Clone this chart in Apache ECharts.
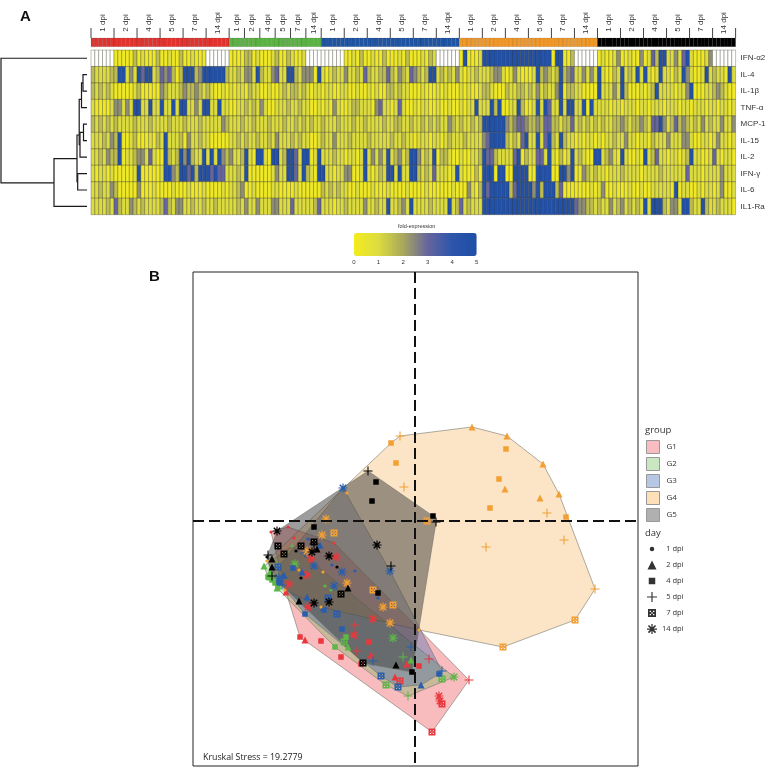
<!DOCTYPE html>
<html><head><meta charset="utf-8">
<style>html,body{margin:0;padding:0;background:#fff}#c{width:766px;height:770px}</style>
<script src="https://cdn.jsdelivr.net/npm/echarts@6/dist/echarts.min.js"></script>
</head><body><div id="c"></div>
<script>
// reading codes: 0 bright yellow ... 5 saturated blue, _ = not measured (white)
const _ = -1;
const foldLevels = [0.25, 1, 1.6, 2.4, 3, 4.7];
const cytokines = ['IFN-α2','IL-4','IL-1β','TNF-α','MCP-1','IL-15','IL-2','IFN-γ','IL-6','IL1-Ra'];
const dayNames = ['1 dpi','2 dpi','4 dpi','5 dpi','7 dpi','14 dpi'];
const groupNames = ['G1','G2','G3','G4','G5'];
const cellsPerDay = [6,4,6,6,6];

const IFNa2 = [_,_,_,_,_,_,0,0,0,0,0,2,0,1,0,0,0,2,0,0,1,0,0,2,0,0,1,0,0,0,_,_,_,_,_,_,0,0,0,0,2,2,0,1,0,0,0,1,2,0,0,2,1,0,0,1,
 _,_,_,_,_,_,_,_,_,_,0,0,1,0,2,0,0,1,0,0,2,0,0,0,1,0,2,0,0,0,1,0,2,1,_,_,_,_,_,_,0,5,0,0,0,1,5,5,5,5,5,5,5,5,5,5,
 5,5,5,5,5,5,5,5,0,5,5,0,0,2,_,_,_,_,_,_,0,1,0,0,1,3,0,0,1,0,0,3,0,1,4,2,5,5,1,1,3,1,4,5,1,0,0,0,1,3,_,_,_,_,_,_];
const IL4 = [2,1,1,1,1,2,2,5,5,1,3,1,5,4,5,5,1,2,4,3,4,2,0,2,5,5,5,2,3,5,5,5,5,5,5,2,1,1,2,1,3,3,1,5,2,1,1,3,4,1,1,5,5,2,1,3,
 3,3,0,5,1,0,1,2,1,1,3,1,1,2,1,4,2,1,1,2,2,4,2,1,3,2,1,4,3,2,1,2,5,5,1,2,1,2,1,3,1,0,1,1,2,1,1,1,2,3,3,1,0,1,3,1,
 0,0,0,1,5,2,3,2,1,2,5,2,3,4,1,1,3,1,3,1,5,1,0,0,2,1,5,1,2,1,5,1,5,1,0,1,5,1,1,0,2,1,5,3,1,0,0,1,5,1,2,1,1,0,5,1];
const IL1b = [2,1,2,1,2,1,0,0,0,0,0,1,2,0,0,0,0,0,3,2,1,1,1,2,3,2,2,3,2,1,2,1,0,0,1,0,1,0,1,1,0,2,1,1,0,0,1,0,0,1,2,1,2,2,1,2,
 1,0,1,1,0,1,1,0,0,1,1,0,0,1,0,0,1,0,1,0,0,2,2,1,2,1,1,0,0,0,1,0,0,0,1,0,1,0,0,0,1,0,1,0,0,1,2,2,1,0,0,0,2,1,1,2,
 2,1,2,1,3,1,2,1,1,3,5,0,2,2,1,1,0,0,0,0,5,1,1,1,3,1,5,2,0,0,0,1,0,1,2,5,1,1,1,1,0,1,1,3,5,0,0,0,1,1,2,3,2,1,0,0];
const TNFa = [1,0,0,0,0,1,3,3,1,3,1,5,5,1,1,5,1,1,5,1,1,5,1,5,5,1,1,3,1,5,5,1,1,5,1,1,0,0,1,1,2,1,2,1,3,1,0,0,1,1,1,2,1,1,2,1,
 1,0,0,1,0,1,0,3,1,0,0,1,2,2,1,1,1,0,3,4,1,1,0,1,4,1,0,0,1,0,1,1,0,0,1,0,0,1,0,0,1,0,1,1,5,1,1,1,5,2,5,0,0,1,1,5,
 2,0,0,1,5,1,5,4,1,1,5,1,5,5,1,1,5,0,5,1,1,1,1,0,1,1,0,1,1,1,0,1,1,0,1,1,1,0,1,1,1,0,1,1,0,1,1,1,0,1,1,0,1,1,0,1];
const MCP1 = [2,1,2,1,2,1,2,1,1,1,1,2,1,1,1,2,1,1,1,1,2,1,1,1,2,1,1,1,2,1,1,1,1,1,3,2,1,1,1,2,1,1,2,1,1,1,2,1,1,1,2,1,1,2,1,2,
 1,2,1,1,2,1,1,1,2,1,1,1,2,1,1,2,1,1,1,1,2,1,1,2,2,1,1,2,1,1,2,1,2,1,2,1,1,3,2,1,2,1,1,2,1,2,5,5,5,5,5,5,3,2,3,4,
 4,3,2,2,3,2,4,4,2,2,1,2,2,4,1,2,1,2,1,2,1,2,1,1,2,2,3,2,1,2,2,3,2,1,4,4,5,3,1,2,4,2,3,2,1,2,1,3,1,2,1,1,3,1,1,3];
const IL15 = [1,1,1,2,1,3,2,5,0,0,1,2,0,0,0,1,0,2,1,5,1,1,1,2,0,3,1,1,2,1,1,0,0,0,0,0,1,1,2,1,2,1,1,2,1,1,2,1,3,1,1,1,2,1,2,1,
 1,0,0,1,2,1,1,3,1,1,1,2,1,1,1,1,2,1,1,1,1,1,2,1,1,2,1,1,0,1,1,1,0,1,1,0,1,2,1,1,1,2,1,1,1,1,3,4,5,5,5,5,2,1,2,1,
 4,5,1,1,5,1,4,5,2,1,5,2,1,1,0,1,0,1,1,0,1,0,1,1,2,1,1,3,1,1,0,1,1,0,2,1,1,1,3,1,1,1,3,3,1,0,0,1,1,0,1,3,1,1,0,1];
const IL2 = [1,1,2,1,3,2,2,5,0,1,1,2,3,3,1,4,1,0,0,5,2,1,2,5,3,5,2,1,1,5,1,5,1,5,3,2,3,1,1,2,5,1,0,5,5,1,0,5,5,1,2,5,5,4,1,5,
 5,0,1,5,1,1,1,2,1,1,0,1,1,0,1,5,1,3,1,3,1,5,1,2,3,1,2,5,5,3,1,2,1,5,0,2,2,1,0,0,1,0,0,1,1,2,5,4,4,2,1,1,1,1,4,5,
 0,2,1,1,4,4,1,5,1,0,2,0,1,5,1,2,1,0,0,5,5,1,2,3,1,0,5,1,0,0,1,0,5,1,2,4,1,1,0,1,1,0,1,2,5,1,1,0,0,1,4,1,0,1,1,0];
const IFNg = [1,0,1,1,0,1,0,0,0,0,0,1,5,0,0,0,0,0,1,5,5,3,2,5,5,4,5,2,5,5,5,4,5,4,4,1,1,1,2,1,5,0,0,0,0,0,0,1,3,1,1,5,5,4,1,5,
 2,1,0,5,5,1,1,0,1,1,3,3,0,0,1,5,1,0,1,2,1,5,5,1,5,1,1,5,5,2,1,2,1,4,1,1,1,0,1,5,1,0,0,0,2,0,5,5,5,0,5,5,0,0,5,5,
 5,5,0,0,5,5,5,5,0,0,5,5,3,5,0,0,3,2,1,2,1,1,0,1,1,1,2,1,1,1,1,0,1,1,1,1,2,1,1,1,1,1,1,4,1,1,1,0,1,1,1,1,3,1,1,1];
const IL6 = [1,1,2,1,1,3,2,0,0,0,0,0,3,0,0,0,1,0,0,0,0,1,0,0,0,1,0,0,0,1,0,0,0,0,1,0,1,1,2,3,0,0,1,0,0,0,0,1,1,0,0,0,0,1,0,0,
 0,0,0,0,2,1,2,1,2,1,1,0,0,1,0,0,0,1,0,0,0,1,0,0,0,0,1,0,0,0,0,1,0,0,0,0,0,0,1,0,0,0,3,1,0,2,5,4,5,5,5,5,5,2,4,5,
 5,5,5,3,5,2,5,5,5,2,4,0,0,0,0,0,0,0,1,0,1,3,0,0,1,0,0,0,1,0,0,1,0,0,1,1,1,1,1,0,5,0,1,1,0,0,1,0,1,1,0,1,3,0,0,1];
const IL1Ra = [1,1,1,1,2,1,4,2,1,1,3,2,1,2,1,1,1,1,2,4,2,1,3,3,1,1,2,1,1,2,1,1,2,1,1,1,1,1,2,1,3,1,1,3,1,1,1,3,3,1,1,1,4,1,1,1,
 1,1,2,4,1,1,1,0,1,1,2,1,1,1,1,3,1,1,2,1,1,5,1,1,2,3,1,5,1,1,1,1,2,1,1,1,1,5,1,2,4,1,2,1,1,1,5,5,5,5,5,5,5,5,5,5,
 5,5,5,5,5,5,5,5,5,5,5,5,5,5,4,3,3,2,2,1,2,1,1,3,1,2,3,1,2,1,2,1,5,1,5,5,5,2,1,3,3,1,5,5,2,1,1,5,2,1,1,2,1,1,1,0];
const heatRows = [IFNa2,IL4,IL1b,TNFa,MCP1,IL15,IL2,IFNg,IL6,IL1Ra];

const dendroMerges = [
 [83,1.5,87,2.5,87],[81.5,2,83,3.5,87],[83.5,4.5,87,5.5,87],[80,5,83.5,6.5,87],
 [79.2,3,81.5,5.75,80],[77.7,7.5,87,8.5,87],[77,5.16,79.2,8,77.7],[54,6.6,77,9.5,87],[1,0.5,87,8.07,54]];

const pointsG1 = [[-144,-11,0],[-127,-6,0],[-81,-22,0],[-121,-17,0],
 [-129,-71,1],[-110,-119,1],[-20,-156,1],[-8,-143,1],[-44,-134,1],
 [-115,-116,2],[-94,-120,2],[-74,-136,2],[-54,-143,2],[4,-145,2],[-46,-121,2],
 [54,-159,3],[-60,-104,3],[-58,-130,3],[14,-138,3],
 [-15,-160,4],[17,-211,4],[27,-183,4],
 [-42,-98,5],[-61,-114,5],[24,-175,5],[25,-180,5],[-104,-38,5],[-79,-36,5],[-108,-54,5],[-126,-63,5],[-107,-86,5]];
const pointsG2 = [[-123,-25,0],[-90,-65,0],[-84,-69,0],[-135,-44,0],
 [-151,-45,1],[-67,-126,1],[-4,-139,1],[-138,-67,1],[-145,-51,1],
 [-147,-56,2],[-143,-59,2],[-69,-116,2],[-80,-126,2],[-140,-62,2],[-137,-66,2],
 [-7,-175,3],[-12,-136,3],
 [-71,-121,4],[-29,-164,4],[27,-158,4],[-145,-56,4],
 [39,-156,5],[-22,-117,5],[-120,-43,5]];
const pointsG3 = [[-107,-18,0],[-95,-26,0],[-60,-50,0],[-37,-77,0],[-83,-44,0],[-93,-89,0],
 [-131,-54,1],[-108,-76,1],[-95,-24,1],[6,-164,1],[-113,-51,1],[-135,-61,1],
 [-122,-47,2],[-136,-61,2],[-110,-93,2],[-91,-89,2],[-73,-108,2],[24,-153,2],
 [-4,-126,3],[-42,-140,3],[27,-150,3],[-132,-57,3],[-110,-32,3],[-133,-64,3],
 [-137,-46,4],[-87,-77,4],[-78,-93,4],[-34,-155,4],[-17,-166,4],
 [-72,33,5],[-25,-50,5],[-101,-45,5],[-73,-51,5],[-81,-65,5],[-136,-57,5]];
const pointsG4 = [[-68,28,0],[-148,-40,0],[-116,-49,0],[-92,-51,0],[-94,-86,0],[4,-109,0],[-130,-69,0],
 [57,94,1],[92,85,1],[128,57,1],[144,27,1],[90,32,1],[125,23,1],
 [-24,78,2],[-19,58,2],[91,72,2],[84,42,2],[75,13,2],[151,4,2],
 [-15,85,3],[-11,34,3],[132,8,3],[149,-19,3],[71,-26,3],[180,-68,3],
 [12,0,4],[160,-99,4],[88,-126,4],[-81,-12,4],[-42,-69,4],[-22,-84,4],
 [-89,2,5],[-93,-14,5],[-108,-30,5],[-68,-62,5],[-32,-86,5],[-25,-102,5]];
const pointsG5 = [[-119,-30,0],[-114,-57,0],[-78,-46,0],[-148,-36,0],
 [-143,-38,1],[-143,-46,1],[-98,-28,1],[-67,-67,1],[-116,-80,1],[-19,-144,1],
 [-39,39,2],[-43,20,2],[18,5,2],[-101,-6,2],[-37,-72,2],[-3,-151,2],
 [-47,50,3],[21,-1,3],[-24,-45,3],[-147,-34,3],[-143,-55,3],[-101,-23,3],
 [-137,-25,4],[-131,-33,4],[-114,-25,4],[-101,-21,4],[-74,-73,4],[-52,-142,4],
 [-138,-10,5],[-38,-24,5],[-103,-31,5],[-86,-35,5],[-101,-82,5],[-86,-81,5]];
const groupPoints = [pointsG1,pointsG2,pointsG3,pointsG4,pointsG5];

const bandColors = ['#e2332f','#5cb344','#1f55a4','#f0992a','#000000'];
const markerColors = ['#e8383d','#5fb548','#2a5dab','#f29f33','#000000'];
const hullFills = ['rgba(232,40,50,0.31)','rgba(90,180,70,0.30)','rgba(40,90,170,0.33)','rgba(245,150,30,0.25)','rgba(60,60,60,0.50)'];
const legendFills = ['#f9bcc0','#cbe7c2','#b5c7e2','#fde0b8','#b0b0b0'];
const heatColors = ['#f4ec1e','#dcdc40','#a8a75c','#66659e','#2c55ab','#1f4fa6'];

const starPath = 'path://M10.5 0H13.5V24H10.5Z M0 10.5H24V13.5H0Z M2.1 4.9L4.9 2.1L21.9 19.1L19.1 21.9Z M19.1 2.1L21.9 4.9L4.9 21.9L2.1 19.1Z';
const plusPath = 'path://M10.6 0H13.4V10.6H24V13.4H13.4V24H10.6V13.4H0V10.6H10.6Z';
const boxPath = 'path://M0 0H24V24H0Z M5 5V9H9V5Z M15 5V9H19V5Z M10 10V14H14V10Z M5 15V19H9V15Z M15 15V19H19V15Z';
const markers = ['circle','triangle','rect',plusPath,boxPath,starPath];
const markerSizes = [3.2,7,5.5,9,7,9];
const legendSizes = [4.5,9,6.5,10,8,10];

const heatData = [];
heatRows.forEach((row,r)=>row.forEach((c,i)=>heatData.push([i,r,c<0?-1:foldLevels[c]])));
const nCells = heatRows[0].length;
const bandData=[], dayTicks=[], dayMids=[], midLabels={};
let pos=0;
cellsPerDay.forEach((n,g)=>{
  dayNames.forEach(d=>{
    dayTicks.push(pos);
    const m=pos+n/2; dayMids.push(m); midLabels[m]=d;
    for(let k=0;k<n;k++) bandData.push([pos+k,g]);
    pos+=n;
  });
});
dayTicks.push(pos);

function hull(pts){
  const p=pts.map(q=>[q[0],q[1]]).sort((a,b)=>a[0]-b[0]||a[1]-b[1]);
  const cr=(o,a,b)=>(a[0]-o[0])*(b[1]-o[1])-(a[1]-o[1])*(b[0]-o[0]);
  const lo=[],up=[];
  for(const q of p){while(lo.length>1&&cr(lo[lo.length-2],lo[lo.length-1],q)<=0)lo.pop();lo.push(q);}
  for(const q of p.slice().reverse()){while(up.length>1&&cr(up[up.length-2],up[up.length-1],q)<=0)up.pop();up.push(q);}
  return lo.slice(0,-1).concat(up.slice(0,-1));
}

const grids=[
 {left:91,top:50,width:644.6,height:164.7,outerBoundsMode:'none'},
 {left:91,top:38,width:644.6,height:8.7,outerBoundsMode:'none'},
 {left:0,top:50,width:91,height:164.7,outerBoundsMode:'none'},
 {left:354,top:256,width:122.7,height:1,outerBoundsMode:'none'},
 {left:193,top:272,width:445,height:494,outerBoundsMode:'none',show:true,borderColor:'#222',borderWidth:1,backgroundColor:'transparent'},
 {left:640,top:541,width:24,height:96,outerBoundsMode:'none'}
];
const hiddenVal=(g,min,max,extra)=>Object.assign({type:'value',gridIndex:g,min,max,show:false},extra||{});
const lab='"Liberation Sans",Arial,sans-serif', sans='"Open Sans","Noto Sans",sans-serif';

const xAxes=[
 hiddenVal(0,0,nCells),
 {type:'value',gridIndex:1,min:0,max:nCells,position:'top',splitLine:{show:false},axisLine:{show:false},
  axisTick:{show:false},
  axisLabel:{show:true,customValues:dayMids,rotate:90,align:'center',verticalAlign:'middle',margin:15,fontSize:8,fontFamily:lab,color:'#333',
   formatter:v=>midLabels[v]||''}},
 hiddenVal(2,0,91),
 {type:'value',gridIndex:3,min:0,max:5,interval:1,splitLine:{show:false},axisLine:{show:false},axisTick:{show:false},
  axisLabel:{fontSize:6,fontFamily:lab,color:'#333',margin:2}},
 {type:'value',gridIndex:4,min:-222,max:223,axisLine:{show:false},axisTick:{show:false},axisLabel:{show:false},splitLine:{show:false}},
 {type:'category',gridIndex:5,data:[''],show:false}
];
const yAxes=[
 {type:'category',gridIndex:0,data:cytokines,inverse:true,position:'right',axisLine:{show:false},axisTick:{show:false},
  axisLabel:{fontSize:8,fontFamily:lab,color:'#333',margin:5}},
 hiddenVal(1,0,1),
 hiddenVal(2,0,10,{inverse:true}),
 hiddenVal(3,0,1),
 {type:'value',gridIndex:4,min:-245,max:249,axisLine:{show:false},axisTick:{show:false},axisLabel:{show:false},splitLine:{show:false}},
 {type:'category',gridIndex:5,data:dayNames,inverse:true,position:'right',axisLine:{show:false},axisTick:{show:false},
  axisLabel:{fontSize:7.5,fontFamily:sans,color:'#333',align:'right',margin:19.5}}
];

const series=[];
series.push({type:'custom',name:'heat',xAxisIndex:0,yAxisIndex:0,data:heatData,encode:{x:0,y:1},clip:false,
 renderItem:(p,api)=>{
  const c=api.coord([api.value(0),api.value(1)]),s=api.size([1,1]);
  const fill=api.value(2)<0?'#ffffff':api.visual('color');
  return {type:'rect',shape:{x:c[0],y:c[1]-s[1]/2,width:s[0],height:s[1]},
   style:{fill,stroke:'rgba(45,45,25,0.5)',lineWidth:0.6}};
 }});
series.push({type:'custom',name:'band',xAxisIndex:1,yAxisIndex:1,data:bandData,encode:{x:0},
 renderItem:(p,api)=>{
  const a=api.coord([api.value(0),1]),b=api.coord([api.value(0)+1,0]);
  return {type:'rect',shape:{x:a[0],y:a[1],width:b[0]-a[0],height:b[1]-a[1]},
   style:{fill:bandColors[api.value(1)],stroke:'rgba(0,0,0,0.2)',lineWidth:0.5}};
 }});
series.push({type:'custom',name:'dayTicks',xAxisIndex:1,yAxisIndex:1,data:dayTicks.map(v=>[v]),encode:{x:0},clip:false,
 renderItem:(p,api)=>{
  const a=api.coord([api.value(0),1]);
  return {type:'line',shape:{x1:a[0],y1:a[1],x2:a[0],y2:a[1]-10},style:{stroke:'#444',lineWidth:1}};
 }});
series.push({type:'custom',name:'dendro',xAxisIndex:2,yAxisIndex:2,data:dendroMerges,clip:false,
 renderItem:(p,api)=>{
  const [x,ya,xa,yb,xb]=[0,1,2,3,4].map(i=>api.value(i));
  return {type:'polyline',shape:{points:[api.coord([xa,ya]),api.coord([x,ya]),api.coord([x,yb]),api.coord([xb,yb])]},
   style:{stroke:'#1a1a1a',lineWidth:1.2,fill:null}};
 }});
groupNames.forEach((g,i)=>{
 const h=hull(groupPoints[i]);
 series.push({type:'custom',name:g,xAxisIndex:4,yAxisIndex:4,data:h,encode:{x:0,y:1},itemStyle:{color:legendFills[i]},
  renderItem:(p,api)=>{
   if(p.dataIndex!==0) return;
   return {type:'polygon',shape:{points:h.map(q=>api.coord(q))},
    style:{fill:hullFills[i],stroke:'rgba(110,110,100,0.8)',lineWidth:0.7}};
  }});
});
[[[-222,0],[223,0]],[[0,249],[0,-245]]].forEach(d=>{
 series.push({type:'line',xAxisIndex:4,yAxisIndex:4,data:d,showSymbol:false,silent:true,
  lineStyle:{color:'#111',width:2,type:[11,5]}});
});
groupNames.forEach((g,i)=>{
 series.push({type:'scatter',name:g+' points',xAxisIndex:4,yAxisIndex:4,data:groupPoints[i],
  symbol:v=>markers[v[2]],symbolSize:v=>markerSizes[v[2]],
  itemStyle:{color:markerColors[i],opacity:1}});
});
series.push({type:'scatter',name:'day key',xAxisIndex:5,yAxisIndex:5,
 data:dayNames.map((d,i)=>[0,i]),symbol:v=>markers[v[1]],symbolSize:v=>legendSizes[v[1]],
 itemStyle:{color:'#000'}});

const option={
 animation:false,backgroundColor:'#fff',
 grid:grids,xAxis:xAxes,yAxis:yAxes,series,
 visualMap:{type:'continuous',seriesIndex:0,dimension:2,min:0,max:5,orient:'horizontal',left:354,top:233,
  itemWidth:23,itemHeight:122.7,calculable:false,realtime:false,text:null,padding:0,
  inRange:{color:heatColors},textStyle:{fontSize:1,color:'transparent'},hoverLink:false},
 legend:{data:groupNames.map((g,i)=>({name:g,icon:'rect',itemStyle:{color:legendFills[i],borderColor:'#999',borderWidth:1}})),
  orient:'vertical',left:646,top:440,padding:0,itemWidth:13,itemHeight:13,itemGap:3,selectedMode:false,
  textStyle:{fontSize:8,fontFamily:sans,color:'#333',padding:[0,0,0,2]}},
 graphic:[
  {type:'text',left:20,top:9,style:{text:'A',font:'bold 15px "Liberation Sans",Arial',fill:'#111'}},
  {type:'text',left:149,top:269,style:{text:'B',font:'bold 15px "Liberation Sans",Arial',fill:'#111'}},
  {type:'text',left:398,top:223,style:{text:'fold-expression',font:'5.5px "Liberation Sans",Arial',fill:'#333'}},
  {type:'text',left:645,top:425,style:{text:'group',font:'9.5px "Open Sans"',fill:'#333'}},
  {type:'text',left:645,top:528,style:{text:'day',font:'9.5px "Open Sans"',fill:'#333'}},
  {type:'text',left:203,top:753,style:{text:'Kruskal Stress = 19.2779',font:'8.8px "Open Sans"',fill:'#222'}}
 ]
};
echarts.init(document.getElementById('c'),null,{renderer:'canvas'}).setOption(option);
</script></body></html>
